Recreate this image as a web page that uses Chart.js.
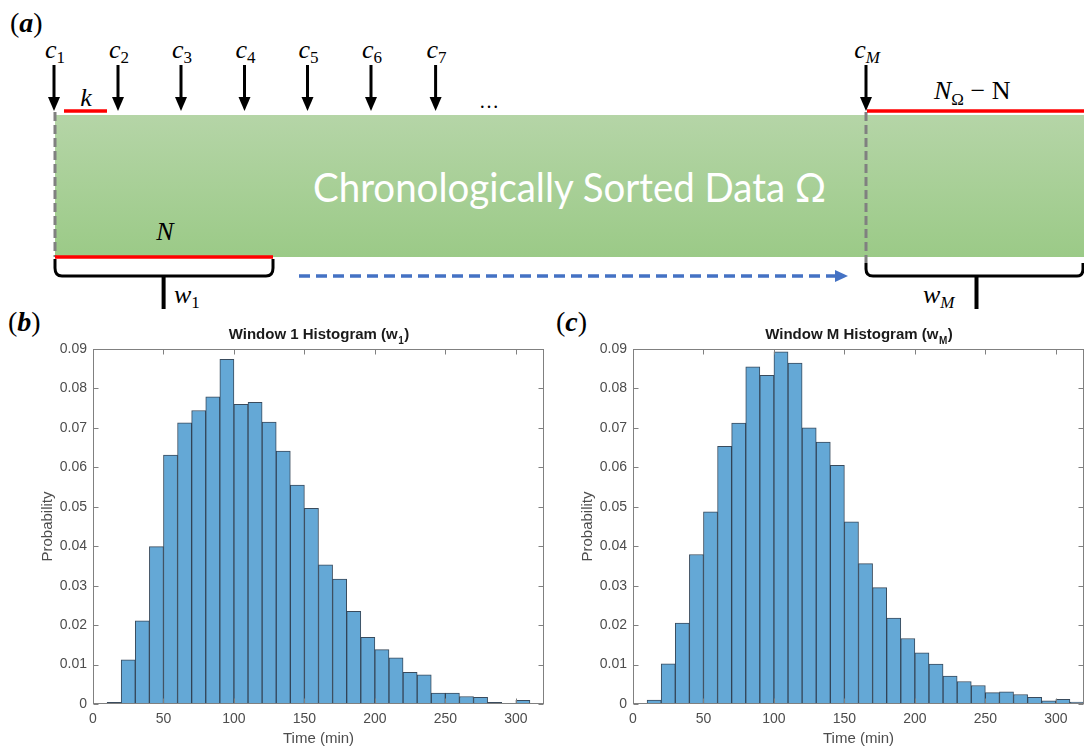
<!DOCTYPE html>
<html><head><meta charset="utf-8">
<script src="https://cdn.jsdelivr.net/npm/chart.js@4.4.1/dist/chart.umd.min.js"></script>
<style>
html,body{margin:0;padding:0;background:#fff;}
#wrap{position:relative;width:1084px;height:749px;overflow:hidden;background:#fff;}
#diag{position:absolute;left:0;top:0;}
#cb{position:absolute;left:0;top:320px;}
#cc{position:absolute;left:540px;top:320px;}
.serif{font-family:"Liberation Serif","DejaVu Serif",serif;}
</style>
</head><body>
<div id="wrap">
<svg id="diag" width="1084" height="749" xmlns="http://www.w3.org/2000/svg">
  <defs>
    <linearGradient id="gg" x1="0" y1="0" x2="0" y2="1">
      <stop offset="0" stop-color="#b5d5a7"/>
      <stop offset="1" stop-color="#9bca87"/>
    </linearGradient>
  </defs>
  <rect x="55" y="115" width="1029" height="142" fill="url(#gg)"/>
  <text x="569.5" y="202" text-anchor="middle" font-family="Lato, 'Open Sans', sans-serif" font-size="40" fill="#ffffff" textLength="513" lengthAdjust="spacingAndGlyphs">Chronologically Sorted Data Ω</text>
  <!-- grey dashed boundaries -->
  <line x1="55" y1="112" x2="55" y2="257" stroke="#808080" stroke-width="3" stroke-dasharray="9 4"/>
  <line x1="866" y1="112" x2="866" y2="263" stroke="#808080" stroke-width="3" stroke-dasharray="9 4"/>
  <!-- red segments -->
  <line x1="64" y1="111" x2="107" y2="111" stroke="#ff0000" stroke-width="3.5"/>
  <line x1="55" y1="257" x2="273" y2="257" stroke="#ff0000" stroke-width="3.5"/>
  <line x1="867" y1="111" x2="1084" y2="111" stroke="#ff0000" stroke-width="3.5"/>
  <!-- arrows -->
  <g id="arrows" stroke="#000" stroke-width="3" fill="#000"></g>
  <!-- brackets -->
  <path d="M55,259 L55,268 Q55,276 62,276 L266,276 Q273,276 273,268 L273,259" fill="none" stroke="#000" stroke-width="3"/>
  <line x1="163.6" y1="276" x2="163.6" y2="309" stroke="#000" stroke-width="4"/>
  <path d="M866,263 L866,269 Q866,276 873,276 L1077,276 Q1083,276 1083,269 L1083,263" fill="none" stroke="#000" stroke-width="3"/>
  <line x1="976.5" y1="276" x2="976.5" y2="309" stroke="#000" stroke-width="4"/>
  <!-- blue dashed arrow -->
  <line x1="299" y1="276" x2="836" y2="276" stroke="#4472c4" stroke-width="3.5" stroke-dasharray="11 6"/>
  <polygon points="835,270 835,282 848,276" fill="#4472c4"/>
  <!-- labels -->
  <text x="10" y="32" class="serif" font-size="28" fill="#000">(<tspan font-weight="bold" font-style="italic">a</tspan>)</text>
  <text x="8" y="331" class="serif" font-size="28" fill="#000">(<tspan font-weight="bold" font-style="italic">b</tspan>)</text>
  <text x="556" y="331" class="serif" font-size="28" fill="#000">(<tspan font-weight="bold" font-style="italic">c</tspan>)</text>
  <g id="clabels" class="serif" fill="#000"></g>
  <text x="86" y="106" text-anchor="middle" class="serif" font-style="italic" font-size="26">k</text>
  <text x="165" y="240" text-anchor="middle" class="serif" font-style="italic" font-size="26">N</text>
  <text x="489" y="108" text-anchor="middle" class="serif" font-size="20">…</text>
  <text x="934" y="99" class="serif" font-size="26"><tspan font-style="italic">N</tspan><tspan font-size="17" dy="6">Ω</tspan><tspan dy="-6"> − N</tspan></text>
  <text x="174" y="303" class="serif" font-size="26"><tspan font-style="italic">w</tspan><tspan font-size="17" dy="5">1</tspan></text>
  <text x="923" y="303" class="serif" font-size="26"><tspan font-style="italic">w</tspan><tspan font-size="17" dy="5" font-style="italic">M</tspan></text>
</svg>
<canvas id="cb" width="550" height="429"></canvas>
<canvas id="cc" width="544" height="429"></canvas>
</div>
<script>
// ---------- data ----------
const binCentersW1 = [15,25,35,45,55,65,75,85,95,105,115,125,135,145,155,165,175,185,195,205,215,225,235,245,255,265,275,285,295,305];
const probW1 = [0.0004,0.0112,0.0211,0.0399,0.0631,0.0713,0.0744,0.0779,0.0874,0.0760,0.0765,0.0715,0.0641,0.0555,0.0496,0.0353,0.0317,0.0235,0.0169,0.0138,0.0117,0.0080,0.0074,0.0028,0.0028,0.0019,0.0017,0.0004,0,0.0009];
const binCentersWM = [15,25,35,45,55,65,75,85,95,105,115,125,135,145,155,165,175,185,195,205,215,225,235,245,255,265,275,285,295,305,315];
const probWM = [0.0010,0.0102,0.0205,0.0379,0.0487,0.0653,0.0712,0.0855,0.0833,0.0893,0.0864,0.0700,0.0664,0.0605,0.0462,0.0356,0.0295,0.0218,0.0166,0.0130,0.0101,0.0071,0.0057,0.0047,0.0029,0.0031,0.0024,0.0017,0.0008,0.0012,0.0005];
const xTickValues = [0,50,100,150,200,250,300];
const xTickLabels = ['0','50','100','150','200','250','300'];
const yTickValues = [0,0.01,0.02,0.03,0.04,0.05,0.06,0.07,0.08,0.09];
const yTickLabels = ['0','0.01','0.02','0.03','0.04','0.05','0.06','0.07','0.08','0.09'];
const windowPointers = ['1','2','3','4','5','6','7','M'];

// ---------- diagram arrows and labels ----------
(function(){
  const xs = [54,118,181,244.5,307.5,371,435.6,866];
  const ns = 'http://www.w3.org/2000/svg';
  const ga = document.getElementById('arrows');
  const gl = document.getElementById('clabels');
  xs.forEach((x,i)=>{
    const l = document.createElementNS(ns,'line');
    l.setAttribute('x1',x);l.setAttribute('x2',x);l.setAttribute('y1',65);l.setAttribute('y2',100);
    ga.appendChild(l);
    const p = document.createElementNS(ns,'polygon');
    p.setAttribute('points',`${x-6},97 ${x+6},97 ${x},111`);
    p.setAttribute('stroke','none');
    ga.appendChild(p);
    const t = document.createElementNS(ns,'text');
    t.setAttribute('x',x+1);t.setAttribute('y',58);t.setAttribute('text-anchor','middle');t.setAttribute('font-size','26');
    const c = document.createElementNS(ns,'tspan'); c.setAttribute('font-style','italic'); c.textContent='c';
    const s = document.createElementNS(ns,'tspan'); s.setAttribute('font-size','17'); s.setAttribute('dy','5');
    if (windowPointers[i]==='M') s.setAttribute('font-style','italic');
    s.textContent = windowPointers[i];
    t.appendChild(c); t.appendChild(s); gl.appendChild(t);
  });
})();

// ---------- charts ----------
const AX = '#808080';
const TXT = '#4d4d4d';
const FONT = '"Liberation Sans", Arial, Helvetica, sans-serif';

const boxPlugin = {
  id:'matlabBox',
  afterDatasetsDraw(chart){
    const {ctx, chartArea:a, scales} = chart;
    ctx.save();
    ctx.strokeStyle = AX; ctx.lineWidth = 1;
    const L = Math.round(a.left)+0.5, R = Math.round(a.right)-0.5, T = Math.round(a.top)+0.5, B = Math.round(a.bottom)-0.5;
    ctx.strokeRect(L, T, R-L, B-T);
    ctx.beginPath();
    const tl = 5;
    xTickValues.forEach(v=>{
      const x = Math.round(scales.x.getPixelForValue(v))+0.5;
      ctx.moveTo(x,B); ctx.lineTo(x,B-tl);
      ctx.moveTo(x,T); ctx.lineTo(x,T+tl);
    });
    yTickValues.forEach(v=>{
      const y = Math.round(scales.y.getPixelForValue(v))+0.5;
      ctx.moveTo(L,y); ctx.lineTo(L+tl,y);
      ctx.moveTo(R,y); ctx.lineTo(R-tl,y);
    });
    ctx.stroke();
    ctx.restore();
  }
};
const titlePlugin = {
  id:'histTitle',
  afterDraw(chart, args, opts){
    const {ctx, chartArea:a} = chart;
    ctx.save();
    const fMain = 'bold 15px ' + FONT, fSub = 'bold 10px ' + FONT;
    ctx.font = fMain; const w1 = ctx.measureText(opts.main).width, w3 = ctx.measureText(')').width;
    ctx.font = fSub; const w2 = ctx.measureText(opts.sub).width;
    let x = (a.left + a.right)/2 - (w1+w2+w3)/2;
    const y = 18.5;
    ctx.fillStyle = '#1a1a1a'; ctx.textBaseline = 'alphabetic'; ctx.textAlign = 'left';
    ctx.font = fMain; ctx.fillText(opts.main, x, y); x += w1;
    ctx.font = fSub; ctx.fillText(opts.sub, x+0.5, y+5); x += w2+1;
    ctx.font = fMain; ctx.fillText(')', x, y);
    ctx.restore();
  }
};

function makeHist(id, centers, values, main, sub, padRight){
  return new Chart(document.getElementById(id), {
    type:'bar',
    data:{datasets:[{
      data: centers.map((c,i)=>({x:c, y:values[i]})),
      backgroundColor:'rgb(100,168,214)',
      borderColor:'rgba(35,55,75,0.9)',
      borderWidth:1,
      borderSkipped:false,
      barPercentage:1, categoryPercentage:1,
      grouped:false
    }]},
    options:{
      responsive:false, animation:false, devicePixelRatio:1,
      layout:{padding:{left:0,right:padRight,top:29,bottom:0}},
      plugins:{legend:{display:false}, tooltip:{enabled:false}, title:{display:false},
        histTitle:{main:main, sub:sub}},
      scales:{
        x:{type:'linear', min:0, max:320, offset:false,
          afterBuildTicks:s=>{s.ticks = xTickValues.map(v=>({value:v}));},
          ticks:{callback:(v,i)=>xTickLabels[i], font:{family:FONT,size:14}, color:TXT, padding:7, maxRotation:0, autoSkip:false},
          grid:{display:false, drawTicks:false}, border:{display:false},
          title:{display:true, text:'Time (min)', font:{family:FONT,size:15}, color:TXT, padding:{top:0,bottom:1}},
          afterFit:s=>{s.height = 45;}
        },
        y:{min:0, max:0.09,
          afterBuildTicks:s=>{s.ticks = yTickValues.map(v=>({value:v}));},
          ticks:{callback:(v,i)=>yTickLabels[i], font:{family:FONT,size:14}, color:TXT, padding:6, autoSkip:false},
          grid:{display:false, drawTicks:false}, border:{display:false},
          title:{display:true, text:'Probability', font:{family:FONT,size:15}, color:TXT, padding:{top:39,bottom:0}},
          afterFit:s=>{s.width = 93;}
        }
      }
    },
    plugins:[boxPlugin, titlePlugin]
  });
}
makeHist('cb', binCentersW1, probW1, 'Window 1 Histogram (w', '1', 6);
makeHist('cc', binCentersWM, probWM, 'Window M Histogram (w', 'M', 0);
</script>
</body></html>
